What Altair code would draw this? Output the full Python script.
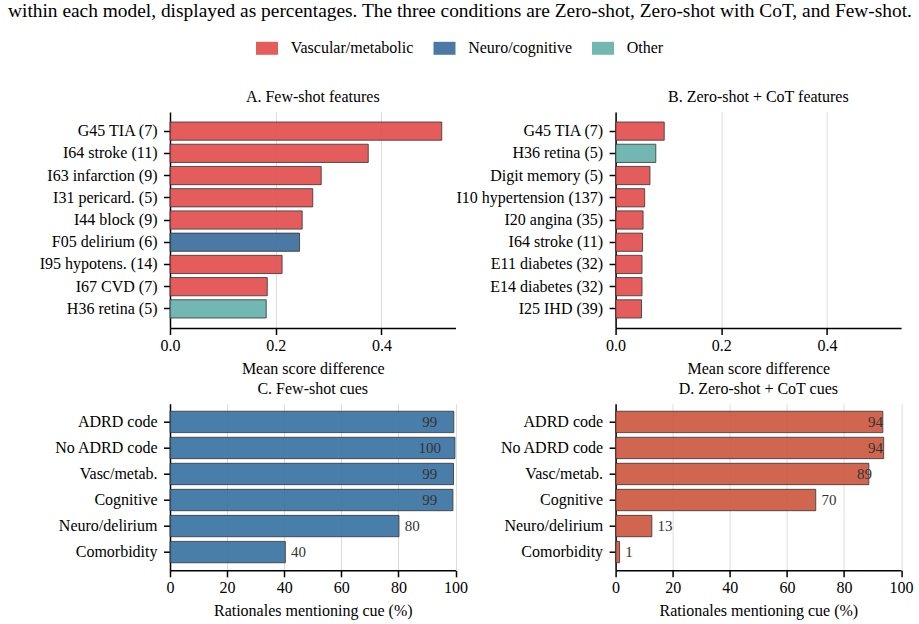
import altair as alt
import pandas as pd

FONT = "Liberation Serif"

caption = ("within each model, displayed as percentages. The three conditions are "
           "Zero-shot, Zero-shot with CoT, and Few-shot.")

cat_names = ["Vascular/metabolic", "Neuro/cognitive", "Other"]
cat_colors = ["#e24a4b", "#37699b", "#63afa8"]

a_labels = ["G45 TIA (7)", "I64 stroke (11)", "I63 infarction (9)", "I31 pericard. (5)",
            "I44 block (9)", "F05 delirium (6)", "I95 hypotens. (14)", "I67 CVD (7)",
            "H36 retina (5)"]
a_values = [0.514, 0.375, 0.286, 0.270, 0.250, 0.245, 0.212, 0.184, 0.182]
a_groups = ["Vascular/metabolic"] * 5 + ["Neuro/cognitive"] + ["Vascular/metabolic"] * 2 + ["Other"]

b_labels = ["G45 TIA (7)", "H36 retina (5)", "Digit memory (5)", "I10 hypertension (137)",
            "I20 angina (35)", "I64 stroke (11)", "E11 diabetes (32)", "E14 diabetes (32)",
            "I25 IHD (39)"]
b_values = [0.092, 0.076, 0.065, 0.055, 0.052, 0.051, 0.050, 0.050, 0.049]
b_groups = ["Vascular/metabolic", "Other"] + ["Vascular/metabolic"] * 7

cue_labels = ["ADRD code", "No ADRD code", "Vasc/metab.", "Cognitive", "Neuro/delirium", "Comorbidity"]
c_values = [99.4, 99.8, 99.3, 99.1, 80.2, 40.4]
d_values = [93.6, 93.9, 88.7, 70.1, 12.7, 1.4]

C_COLOR = "#3670a1"
D_COLOR = "#cb553d"

W = 285.5
H_TOP = 216
H_BOT = 166.6

legend_path = "M-1,-0.59L1,-0.59L1,0.59L-1,0.59Z"


def panel_title(text):
    return alt.TitleParams(text, fontSize=16, font=FONT, fontWeight="normal",
                           offset=10, dy=16, baseline="alphabetic", anchor="middle",
                           color="black")


def feature_panel(labels, values, groups, title):
    df = pd.DataFrame({"feature": labels, "value": values, "group": groups})
    return alt.Chart(df, title=panel_title(title)).mark_bar(
        stroke="#333333", strokeWidth=1, strokeOpacity=0.8, fillOpacity=0.9
    ).encode(
        x=alt.X("value:Q", scale=alt.Scale(domain=[0, 0.54], nice=False, zero=True),
                axis=alt.Axis(values=[0, 0.2, 0.4], format=".1f", title="Mean score difference")),
        y=alt.Y("feature:N", sort=labels,
                scale=alt.Scale(paddingInner=0.18, paddingOuter=0.45),
                axis=alt.Axis(title=None)),
        color=alt.Color("group:N", scale=alt.Scale(domain=cat_names, range=cat_colors),
                        legend=alt.Legend(orient="none", legendX=86, legendY=-74.7,
                                          direction="horizontal", title=None,
                                          symbolType=legend_path, symbolSize=484,
                                          symbolStrokeWidth=0, symbolOpacity=0.9,
                                          labelFont=FONT, labelFontSize=16, labelColor="black",
                                          labelOffset=12.7, columnPadding=19.5, padding=0)),
    ).properties(width=W, height=H_TOP)


def cue_panel(values, color, title):
    df = pd.DataFrame({"cue": cue_labels, "pct": values})
    ytitle = "Rationales mentioning cue (%)"
    base = alt.Chart(df).encode(
        y=alt.Y("cue:N", sort=cue_labels,
                scale=alt.Scale(paddingInner=0.18, paddingOuter=0.29),
                axis=alt.Axis(title=None))
    )
    xscale = alt.Scale(domain=[0, 100], nice=False)
    xaxis = alt.Axis(values=[0, 20, 40, 60, 80, 100], title=ytitle)
    bars = base.mark_bar(color=color, fillOpacity=0.9, stroke="#333333",
                         strokeWidth=1, strokeOpacity=0.8).encode(
        x=alt.X("pct:Q", scale=xscale, axis=xaxis)
    )
    lbl = base.transform_calculate(
        txt="format(datum.pct, '.0f')",
        lx="datum.pct >= 85 ? min(datum.pct - 1.5, 91) : datum.pct + 2",
    )
    inner = lbl.transform_filter("datum.pct >= 85").mark_text(
        align="center", baseline="middle", font=FONT, fontSize=15, color="#333333"
    ).encode(x=alt.X("lx:Q", scale=xscale, axis=xaxis), text="txt:N")
    outer = lbl.transform_filter("datum.pct < 85").mark_text(
        align="left", baseline="middle", font=FONT, fontSize=15, color="#333333"
    ).encode(x=alt.X("lx:Q", scale=xscale, axis=xaxis), text="txt:N")
    return alt.layer(bars, inner, outer, title=panel_title(title)).properties(width=W, height=H_BOT)


pa = feature_panel(a_labels, a_values, a_groups, "A. Few-shot features")
pb = feature_panel(b_labels, b_values, b_groups, "B. Zero-shot + CoT features")
pc = cue_panel(c_values, C_COLOR, "C. Few-shot cues")
pd_ = cue_panel(d_values, D_COLOR, "D. Zero-shot + CoT cues")

chart = alt.concat(
    pa, pb, pc, pd_, columns=2,
    spacing={"row": 75.7, "column": 159.6},
    bounds="flush",
).properties(
    title=alt.TitleParams(caption, anchor="start", frame="group", dx=-162, offset=25.5,
                          dy=24.5, fontSize=19.4, font=FONT, fontWeight="normal",
                          baseline="alphabetic", color="black"),
    padding={"left": 8, "top": 0, "right": 5, "bottom": 5},
).configure(font=FONT).configure_view(stroke=None).configure_axis(
    labelFont=FONT, titleFont=FONT, labelFontSize=16, titleFontSize=16,
    labelColor="black", titleColor="black", titleFontWeight="normal",
    domainColor="black", tickColor="black", domainWidth=1.5, tickWidth=1.5,
    tickSize=6.5, titlePadding=7, labelFlush=False,
    gridColor="#dddddd", gridWidth=1,
).configure_axisY(grid=False, labelPadding=6.5).configure_axisX(grid=True, labelPadding=2.5)

chart.save("out.html", embed_options={"renderer": "svg", "actions": False})
